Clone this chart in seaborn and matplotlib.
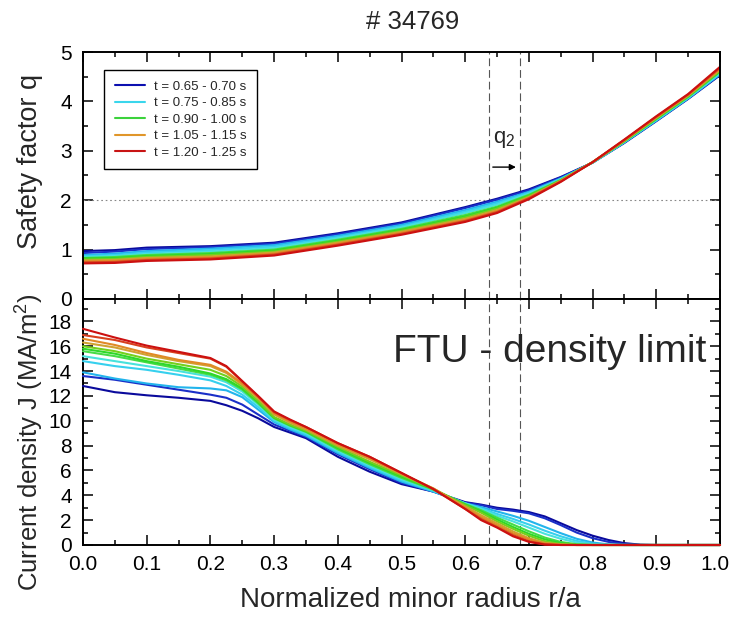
import numpy as np
import pandas as pd
import seaborn as sns
import matplotlib
matplotlib.use('Agg')
import matplotlib.pyplot as plt
from matplotlib.lines import Line2D
from matplotlib.ticker import MultipleLocator
from matplotlib.transforms import ScaledTranslation

# radial grids (r/a)
r_j = [0.00, 0.05, 0.10, 0.15, 0.20, 0.225, 0.25, 0.275, 0.30, 0.325, 0.35, 0.40, 0.45, 0.50, 0.55,
       0.60, 0.625, 0.65, 0.675, 0.70, 0.725, 0.75, 0.775, 0.80, 0.825, 0.85, 0.875, 0.90, 1.00]
r_q = [0.00, 0.05, 0.10, 0.20, 0.30, 0.40, 0.50, 0.60, 0.65, 0.70, 0.75, 0.80, 0.85, 0.90, 0.95, 1.00]

# current density profiles J (MA/m^2)
j_blue_a = [12.8, 12.3, 12.05, 11.85, 11.6, 11.25, 10.8, 10.2, 9.5, 9.05, 8.6,
            7.1, 5.9, 4.9, 4.3, 3.45, 3.25, 3.0, 2.85, 2.65, 2.3, 1.75, 1.2, 0.75, 0.4, 0.15, 0.03, 0.0, 0.0]
j_blue_b = [13.6, 13.3, 12.9, 12.5, 12.1, 11.85, 11.3, 10.5, 9.7, 9.2, 8.7,
            7.3, 6.1, 5.0, 4.3, 3.4, 3.2, 2.9, 2.75, 2.55, 2.15, 1.6, 1.0, 0.55, 0.25, 0.08, 0.0, 0.0, 0.0]
j_cyan_a = [13.9, 13.4, 13.0, 12.7, 12.6, 12.45, 11.9, 10.9, 9.9, 9.3, 8.8,
            7.4, 6.2, 5.1, 4.3, 3.35, 3.05, 2.7, 2.35, 1.95, 1.45, 0.95, 0.5, 0.2, 0.05, 0.0, 0.0, 0.0, 0.0]
j_cyan_b = [14.8, 14.4, 14.1, 13.7, 13.25, 12.8, 12.1, 11.1, 10.0, 9.4, 8.9,
            7.5, 6.3, 5.2, 4.35, 3.35, 2.95, 2.5, 2.1, 1.65, 1.15, 0.7, 0.33, 0.1, 0.02, 0.0, 0.0, 0.0, 0.0]
j_cyan_c = [15.2, 14.8, 14.4, 14.0, 13.55, 13.1, 12.35, 11.3, 10.1, 9.5, 9.0,
            7.6, 6.4, 5.3, 4.4, 3.35, 2.9, 2.35, 1.9, 1.4, 0.9, 0.5, 0.2, 0.05, 0.0, 0.0, 0.0, 0.0, 0.0]
j_green_a = [15.6, 15.2, 14.7, 14.2, 13.7, 13.25, 12.5, 11.4, 10.2, 9.6, 9.1,
             7.7, 6.5, 5.4, 4.45, 3.3, 2.8, 2.2, 1.65, 1.1, 0.6, 0.25, 0.06, 0.0, 0.0, 0.0, 0.0, 0.0, 0.0]
j_green_b = [15.8, 15.4, 14.8, 14.35, 13.8, 13.35, 12.6, 11.5, 10.25, 9.65, 9.15,
             7.8, 6.6, 5.5, 4.5, 3.25, 2.7, 2.05, 1.45, 0.9, 0.45, 0.15, 0.02, 0.0, 0.0, 0.0, 0.0, 0.0, 0.0]
j_green_c = [16.0, 15.6, 15.0, 14.55, 14.1, 13.6, 12.75, 11.6, 10.3, 9.7, 9.2,
             7.9, 6.7, 5.6, 4.5, 3.2, 2.6, 1.9, 1.3, 0.75, 0.3, 0.08, 0.0, 0.0, 0.0, 0.0, 0.0, 0.0, 0.0]
j_orange_a = [16.3, 15.9, 15.3, 14.8, 14.4, 13.85, 12.9, 11.8, 10.5, 9.85, 9.3,
              8.0, 6.9, 5.7, 4.55, 3.1, 2.4, 1.75, 1.1, 0.55, 0.18, 0.03, 0.0, 0.0, 0.0, 0.0, 0.0, 0.0, 0.0]
j_orange_b = [16.6, 16.1, 15.45, 14.9, 14.5, 13.95, 13.0, 11.9, 10.6, 9.95, 9.4,
              8.1, 7.0, 5.75, 4.55, 3.0, 2.25, 1.6, 0.95, 0.45, 0.12, 0.02, 0.0, 0.0, 0.0, 0.0, 0.0, 0.0, 0.0]
j_red_a = [16.9, 16.5, 15.9, 15.45, 15.0, 14.35, 13.15, 11.95, 10.7, 10.05, 9.5,
           8.2, 7.1, 5.8, 4.5, 2.9, 2.1, 1.45, 0.8, 0.3, 0.06, 0.0, 0.0, 0.0, 0.0, 0.0, 0.0, 0.0, 0.0]
j_red_b = [17.4, 16.7, 16.05, 15.55, 15.05, 14.4, 13.2, 12.0, 10.75, 10.1, 9.5,
           8.2, 7.1, 5.8, 4.5, 2.9, 2.0, 1.4, 0.7, 0.25, 0.03, 0.0, 0.0, 0.0, 0.0, 0.0, 0.0, 0.0, 0.0]

# safety factor profiles q
q_blue_a = [0.97, 0.99, 1.04, 1.07, 1.14, 1.33, 1.55, 1.86, 2.03, 2.22, 2.47, 2.76, 3.16, 3.60, 4.05, 4.53]
q_blue_b = [0.93, 0.96, 1.01, 1.05, 1.12, 1.31, 1.53, 1.84, 2.01, 2.20, 2.46, 2.76, 3.17, 3.61, 4.06, 4.54]
q_cyan_a = [0.89, 0.92, 0.97, 1.02, 1.09, 1.28, 1.50, 1.80, 1.97, 2.17, 2.44, 2.76, 3.17, 3.61, 4.06, 4.55]
q_cyan_b = [0.87, 0.89, 0.94, 0.99, 1.06, 1.25, 1.47, 1.77, 1.94, 2.15, 2.43, 2.76, 3.18, 3.62, 4.07, 4.56]
q_cyan_c = [0.85, 0.87, 0.91, 0.96, 1.03, 1.23, 1.45, 1.74, 1.91, 2.13, 2.42, 2.76, 3.18, 3.63, 4.08, 4.58]
q_green_a = [0.83, 0.85, 0.89, 0.93, 1.00, 1.20, 1.42, 1.70, 1.87, 2.11, 2.41, 2.77, 3.19, 3.64, 4.09, 4.60]
q_green_b = [0.82, 0.83, 0.87, 0.91, 0.98, 1.18, 1.40, 1.67, 1.85, 2.09, 2.40, 2.77, 3.20, 3.65, 4.10, 4.61]
q_green_c = [0.80, 0.81, 0.85, 0.89, 0.96, 1.16, 1.38, 1.65, 1.83, 2.08, 2.40, 2.77, 3.20, 3.66, 4.11, 4.62]
q_orange_a = [0.78, 0.79, 0.83, 0.86, 0.94, 1.14, 1.36, 1.62, 1.80, 2.06, 2.39, 2.77, 3.21, 3.67, 4.12, 4.64]
q_orange_b = [0.76, 0.77, 0.81, 0.84, 0.92, 1.12, 1.34, 1.60, 1.78, 2.05, 2.39, 2.77, 3.22, 3.68, 4.13, 4.66]
q_red_a = [0.74, 0.75, 0.79, 0.82, 0.90, 1.10, 1.32, 1.58, 1.76, 2.04, 2.38, 2.77, 3.22, 3.69, 4.14, 4.68]
q_red_b = [0.72, 0.73, 0.77, 0.80, 0.88, 1.08, 1.30, 1.56, 1.74, 2.02, 2.37, 2.77, 3.23, 3.70, 4.15, 4.70]

curves = ['blue_a', 'blue_b', 'cyan_a', 'cyan_b', 'cyan_c', 'green_a', 'green_b', 'green_c',
          'orange_a', 'orange_b', 'red_a', 'red_b']
curve_colors = ['#0a0a9c', '#1a2fc8', '#22b4ec', '#36d0ee', '#48e2dc', '#46dc46', '#2ed82a',
                '#74d01c', '#d0a232', '#e08a26', '#d8401e', '#cc1010']

legend_labels = ['t = 0.65 - 0.70 s', 't = 0.75 - 0.85 s', 't = 0.90 - 1.00 s',
                 't = 1.05 - 1.15 s', 't = 1.20 - 1.25 s']
legend_colors = ['#0c10b0', '#3ad6ec', '#3cd23c', '#e0962a', '#c81414']

j_data = [j_blue_a, j_blue_b, j_cyan_a, j_cyan_b, j_cyan_c, j_green_a, j_green_b, j_green_c,
          j_orange_a, j_orange_b, j_red_a, j_red_b]
q_data = [q_blue_a, q_blue_b, q_cyan_a, q_cyan_b, q_cyan_c, q_green_a, q_green_b, q_green_c,
          q_orange_a, q_orange_b, q_red_a, q_red_b]

df_j = pd.concat([pd.DataFrame({'r': r_j, 'J': v, 'curve': c}) for c, v in zip(curves, j_data)])
df_q = pd.concat([pd.DataFrame({'r': r_q, 'q': v, 'curve': c}) for c, v in zip(curves, q_data)])
palette = dict(zip(curves, curve_colors))

sns.set_theme(style='ticks')
plt.rcParams['font.family'] = ['Liberation Sans', 'DejaVu Sans']
plt.rcParams['mathtext.fontset'] = 'custom'
plt.rcParams['mathtext.rm'] = 'Liberation Sans'
plt.rcParams['mathtext.default'] = 'regular'

fig = plt.figure(figsize=(7.32, 6.17), dpi=100)
ax1 = fig.add_axes([83 / 732, 1 - 299 / 617, 637 / 732, 247 / 617])
ax2 = fig.add_axes([83 / 732, 1 - 545 / 617, 637 / 732, 246 / 617])

# reference lines
for ax in (ax1, ax2):
    for xv in (0.637, 0.686):
        ax.axvline(xv, color='#555555', lw=0.8, dashes=(7, 3.5), zorder=1)
ax1.axhline(2, color='#888888', lw=0.8, ls=(0, (1.5, 2.5)), zorder=1)

sns.lineplot(data=df_q, x='r', y='q', hue='curve', hue_order=curves, palette=palette,
             estimator=None, sort=False, legend=False, lw=1.5, ax=ax1)
sns.lineplot(data=df_j, x='r', y='J', hue='curve', hue_order=curves, palette=palette,
             estimator=None, sort=False, legend=False, lw=1.5, ax=ax2)
for ln in ax2.lines[2:]:
    ln.set_clip_on(False)
    ln.set_zorder(3)

ax1.set_xlim(0, 1)
ax1.set_ylim(0, 5)
ax2.set_xlim(0, 1)
ax2.set_ylim(0, 19.8)
ax1.set_yticks(range(0, 6))
ax1.yaxis.set_minor_locator(MultipleLocator(0.5))
ax2.set_yticks(range(0, 19, 2))
ax2.yaxis.set_minor_locator(MultipleLocator(1))
for ax in (ax1, ax2):
    ax.set_xticks(np.arange(0, 1.01, 0.1))
    ax.xaxis.set_minor_locator(MultipleLocator(0.05))
    ax.tick_params(which='both', direction='in', top=True, right=True, width=1.1,
                   labelsize=15, colors='black')
    ax.tick_params(which='major', length=7)
    ax.tick_params(which='minor', length=3.5)
    ax.tick_params(axis='y', pad=8)
    ax.tick_params(axis='x', pad=7)
    ax.set_xlabel('')
    ax.set_ylabel('')
    for s in ax.spines.values():
        s.set_linewidth(1.4)
        s.set_color('black')
ax1.tick_params(labelbottom=False)
ax2.set_xticklabels([f'{v:.1f}' for v in np.arange(0, 1.01, 0.1)])
# nudge the last x label so it stays inside the canvas
last_lbl = ax2.get_xticklabels()[-1]
last_lbl.set_transform(last_lbl.get_transform() + ScaledTranslation(-4 / 72, 0, fig.dpi_scale_trans))

# legend
handles = [Line2D([], [], color=c, lw=1.5) for c in legend_colors]
leg = ax1.legend(handles, legend_labels, loc='upper left', bbox_to_anchor=(0.033, 0.927),
                 borderaxespad=0, fontsize=9.5, frameon=True, fancybox=False,
                 edgecolor='black', framealpha=1, handlelength=2.3, handletextpad=0.7,
                 labelspacing=0.32, borderpad=0.8)
leg.get_frame().set_linewidth(1.0)

# annotations
ax1.annotate('', xy=(0.684, 2.67), xytext=(0.639, 2.67),
             arrowprops=dict(arrowstyle='-|>', color='black', lw=1.0, mutation_scale=9))
ax1.text(0.643, 3.16, 'q$_2$', fontsize=16, ha='left', va='baseline')
ax2.text(0.487, 14.76, 'FTU - density limit', fontsize=28, ha='left', va='baseline')

fig.text(0.564, 1 - 22 / 617, '# 34769', fontsize=18.5, ha='center', va='center')
fig.text(0.56, 1 - 600 / 617, 'Normalized minor radius r/a', fontsize=20, ha='center', va='center')
fig.text(30 / 732, 1 - 161 / 617, 'Safety factor q', fontsize=19.5, rotation=90,
         ha='center', va='center')
fig.text(30 / 732, 1 - 442 / 617, 'Current density J (MA/m$^2$)', fontsize=18.5, rotation=90,
         ha='center', va='center')

fig.savefig('out.png', dpi=100, facecolor='white')
